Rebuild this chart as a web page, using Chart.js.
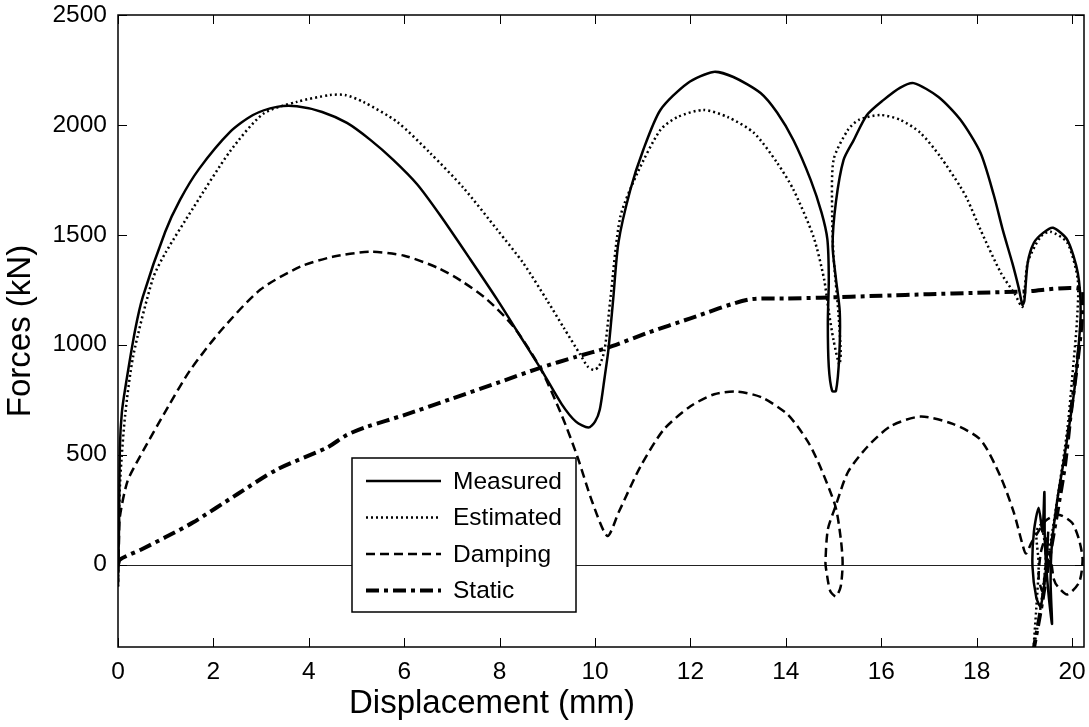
<!DOCTYPE html>
<html>
<head>
<meta charset="utf-8">
<script src="https://cdn.jsdelivr.net/npm/chart.js@4.4.0/dist/chart.umd.min.js"></script>
<style>
  body { margin: 0; background: #fff; }
  #wrap { width: 1089px; height: 727px; }
</style>
</head>
<body>
<div id="wrap"><canvas id="forceChart" width="1089" height="727"></canvas></div>
<script>
// Data (displacement in mm, force in kN)
const measuredDisp = [0, 0.02, 0.04, 0.08, 0.15, 0.36, 0.52, 0.99, 1.3, 1.7, 2.35, 2.83, 3.33, 3.75, 4.28, 4.8, 5.29, 5.77, 6.27, 6.75, 7.38, 7.95, 8.4, 8.85, 9.3, 9.6, 9.86, 10.0, 10.1, 10.2, 10.28, 10.38, 10.49, 10.74, 11.01, 11.37, 11.94, 12.48, 12.9, 13.47, 13.82, 14.16, 14.52, 14.75, 14.87, 14.9, 14.88, 14.9, 14.97, 15.05, 15.12, 15.13, 15.05, 14.98, 15.05, 15.21, 15.42, 15.7, 16.05, 16.4, 16.68, 17.2, 17.66, 18.08, 18.36, 18.55, 18.75, 18.88, 18.96, 19.0, 19.07, 19.2, 19.4, 19.6, 19.9, 20.12, 20.18, 20.12, 20.03, 19.82, 19.7, 19.58, 19.55, 19.58, 19.5, 19.43, 19.42, 19.38, 19.3, 19.2, 19.17, 19.25, 19.34, 19.45, 19.5];
const measuredForce = [-80, 150, 536, 690, 800, 1068, 1218, 1514, 1659, 1800, 1968, 2045, 2082, 2085, 2059, 2009, 1932, 1841, 1730, 1590, 1390, 1205, 1050, 895, 730, 650, 623, 650, 705, 850, 977, 1205, 1464, 1705, 1886, 2068, 2190, 2241, 2218, 2145, 2055, 1930, 1750, 1600, 1480, 1300, 1100, 900, 790, 790, 950, 1150, 1300, 1450, 1650, 1841, 1930, 2045, 2114, 2170, 2190, 2127, 2023, 1873, 1680, 1520, 1370, 1260, 1182, 1200, 1373, 1464, 1510, 1532, 1477, 1327, 1145, 950, 764, 464, 309, 100, -80, -270, -120, 100, 330, 150, 259, 150, -9, -150, -190, -30, 150];

const estimatedDisp = [0, 0.02, 0.05, 0.15, 0.32, 0.73, 1.0, 1.57, 2.35, 3.04, 3.75, 4.45, 4.76, 5.14, 5.85, 6.54, 7.24, 7.95, 8.5, 9.0, 9.35, 9.69, 9.85, 9.97, 10.08, 10.2, 10.32, 10.53, 10.89, 11.37, 11.73, 12.27, 12.78, 13.33, 13.82, 14.16, 14.58, 14.8, 14.9, 15.0, 15.12, 15.15, 15.1, 15.0, 14.97, 15.0, 15.3, 15.53, 15.98, 16.4, 16.82, 17.24, 17.66, 17.81, 18.08, 18.5, 18.8, 18.96, 19.07, 19.34, 19.55, 19.9, 20.12, 20.1, 20.03, 19.9, 19.7, 19.55, 19.42, 19.3, 19.2, 19.25, 19.3, 19.25, 19.35, 19.45, 19.4];
const estimatedForce = [-100, 200, 400, 680, 950, 1300, 1420, 1620, 1880, 2050, 2105, 2136, 2136, 2105, 2014, 1873, 1714, 1523, 1370, 1200, 1075, 955, 900, 886, 900, 977, 1205, 1582, 1782, 1977, 2036, 2068, 2036, 1964, 1827, 1705, 1491, 1300, 1150, 1020, 910, 960, 1150, 1400, 1600, 1841, 1977, 2023, 2045, 2023, 1964, 1855, 1718, 1659, 1523, 1330, 1230, 1173, 1373, 1491, 1514, 1464, 1295, 1100, 918, 614, 309, 100, -80, -250, -370, -200, 0, 150, 180, 50, -100];

const dampingDisp = [0, 0.02, 0.04, 0.2, 0.46, 1.05, 1.5, 2.14, 2.98, 3.82, 4.5, 5.29, 6.0, 6.7, 7.2, 7.74, 8.3, 8.85, 9.3, 9.63, 9.95, 10.26, 10.5, 10.95, 11.44, 12.0, 12.5, 12.98, 13.5, 14.0, 14.24, 14.5, 14.73, 15.04, 15.15, 15.19, 15.15, 15.05, 14.93, 14.85, 14.83, 14.88, 15.04, 15.3, 15.71, 16.2, 16.82, 17.5, 18.08, 18.5, 18.78, 18.95, 19.03, 19.15, 19.28, 19.45, 19.72, 20.0, 20.15, 20.22, 20.15, 19.9, 19.7, 19.62, 19.55, 19.45, 19.35, 19.3, 19.38, 19.45];
const dampingForce = [-100, 100, 218, 380, 491, 718, 880, 1060, 1250, 1355, 1400, 1423, 1405, 1350, 1290, 1205, 1080, 895, 680, 491, 280, 130, 240, 445, 614, 720, 775, 787, 760, 690, 630, 545, 440, 264, 120, 9, -100, -145, -120, -30, 9, 160, 264, 420, 536, 630, 673, 640, 568, 400, 236, 100, 50, 100, 145, 200, 227, 190, 110, 23, -80, -136, -100, -68, 30, 120, 60, -60, -120, 0];

const staticDisp = [0, 0.04, 0.5, 1.0, 1.57, 2.5, 3.33, 4.38, 4.8, 5.22, 6, 7, 8, 8.85, 9.6, 10.26, 11.1, 12, 13.2, 14, 14.73, 16, 17, 18, 19, 20.22, 20.2, 20.1, 19.98, 19.85, 19.7, 19.5, 19.35, 19.2];
const staticForce = [0, 23, 70, 125, 191, 320, 432, 532, 590, 627, 680, 755, 830, 895, 945, 986, 1054, 1120, 1205, 1210, 1214, 1223, 1230, 1236, 1242, 1250, 1100, 900, 700, 450, 250, 0, -200, -380];

const seriesNames = ['Measured', 'Estimated', 'Damping', 'Static'];
const xTicks = [0, 2, 4, 6, 8, 10, 12, 14, 16, 18, 20];
const yTicks = [0, 500, 1000, 1500, 2000, 2500];

const toPoints = (xs, ys) => xs.map((x, i) => ({ x: x, y: ys[i] }));

const lineStyles = [
  { width: 2.5, dash: [] },
  { width: 2.5, dash: [2, 3] },
  { width: 2.5, dash: [9, 5] },
  { width: 4, dash: [13, 5, 4, 5] }
];

const fontFamily = '"Liberation Sans", Arial, sans-serif';

// Frame, inward ticks, zero line, x label and the boxed legend, MATLAB style
const framePlugin = {
  id: 'frame',
  beforeDatasetsDraw(chart) {
    const { ctx, chartArea: a, scales } = chart;
    const y0 = Math.round(scales.y.getPixelForValue(0)) + 0.5;
    ctx.save();
    ctx.strokeStyle = '#222';
    ctx.lineWidth = 1;
    ctx.beginPath();
    ctx.moveTo(a.left, y0);
    ctx.lineTo(a.right, y0);
    ctx.stroke();
    ctx.restore();
  },
  afterDraw(chart) {
    const { ctx, chartArea: a, scales } = chart;
    const tl = 9;
    ctx.save();
    ctx.strokeStyle = '#000';
    ctx.lineWidth = 1.5;
    ctx.strokeRect(a.left, a.top, a.right - a.left, a.bottom - a.top);
    ctx.lineWidth = 1;
    ctx.beginPath();
    xTicks.forEach(v => {
      const px = Math.round(scales.x.getPixelForValue(v)) + 0.5;
      ctx.moveTo(px, a.bottom); ctx.lineTo(px, a.bottom - tl);
      ctx.moveTo(px, a.top); ctx.lineTo(px, a.top + tl);
    });
    yTicks.forEach(v => {
      const py = Math.round(scales.y.getPixelForValue(v)) + 0.5;
      ctx.moveTo(a.left, py); ctx.lineTo(a.left + tl, py);
      ctx.moveTo(a.right, py); ctx.lineTo(a.right - tl, py);
    });
    ctx.stroke();

    // x axis label (sits left of the axes centre in the original)
    ctx.fillStyle = '#000';
    ctx.font = '33px ' + fontFamily;
    ctx.textAlign = 'center';
    ctx.textBaseline = 'middle';
    ctx.fillText('Displacement (mm)', 492, 704);

    // legend box
    const bx = 352, by = 458, bw = 224, bh = 154;
    ctx.fillStyle = '#fff';
    ctx.fillRect(bx, by, bw, bh);
    ctx.lineWidth = 1.5;
    ctx.strokeStyle = '#000';
    ctx.strokeRect(bx, by, bw, bh);
    ctx.font = '24.5px ' + fontFamily;
    ctx.textAlign = 'left';
    ctx.fillStyle = '#000';
    seriesNames.forEach((name, i) => {
      const ly = by + 23 + i * 36.5;
      ctx.lineWidth = lineStyles[i].width;
      ctx.setLineDash(lineStyles[i].dash);
      ctx.beginPath();
      ctx.moveTo(366, ly);
      ctx.lineTo(441, ly);
      ctx.stroke();
      ctx.setLineDash([]);
      ctx.fillText(name, 453, ly + 1);
    });
    ctx.restore();
  }
};

const datasets = [
  toPoints(measuredDisp, measuredForce),
  toPoints(estimatedDisp, estimatedForce),
  toPoints(dampingDisp, dampingForce),
  toPoints(staticDisp, staticForce)
].map((pts, i) => ({
  label: seriesNames[i],
  data: pts,
  showLine: true,
  borderColor: '#000',
  borderWidth: lineStyles[i].width,
  borderDash: lineStyles[i].dash,
  pointRadius: 0,
  tension: 0.25,
  fill: false
}));

const tickFont = { family: fontFamily, size: 24.5 };

new Chart(document.getElementById('forceChart').getContext('2d'), {
  type: 'scatter',
  data: { datasets: datasets },
  options: {
    responsive: false,
    animation: false,
    layout: { padding: { top: 15, right: 5, left: 0, bottom: 0 } },
    plugins: { legend: { display: false }, tooltip: { enabled: false } },
    scales: {
      x: {
        type: 'linear',
        min: 0,
        max: 20.25,
        grid: { display: false, drawTicks: false },
        border: { display: false },
        afterBuildTicks: s => { s.ticks = xTicks.map(v => ({ value: v })); },
        afterFit: s => { s.height = 80; s.paddingLeft = 0; s.paddingRight = 0; },
        ticks: { color: '#000', font: tickFont, padding: 11, maxRotation: 0, autoSkip: false, callback: v => String(v) }
      },
      y: {
        type: 'linear',
        min: -375,
        max: 2500,
        grid: { display: false, drawTicks: false },
        border: { display: false },
        afterBuildTicks: s => { s.ticks = yTicks.map(v => ({ value: v })); },
        afterFit: s => { s.width = 118; s.paddingTop = 0; s.paddingBottom = 0; },
        ticks: { color: '#000', font: tickFont, padding: 11, autoSkip: false, callback: v => String(v) },
        title: {
          display: true,
          text: 'Forces (kN)',
          color: '#000',
          font: { family: fontFamily, size: 33 },
          padding: { top: 1, bottom: 0 }
        }
      }
    }
  },
  plugins: [framePlugin]
});
</script>
</body>
</html>
